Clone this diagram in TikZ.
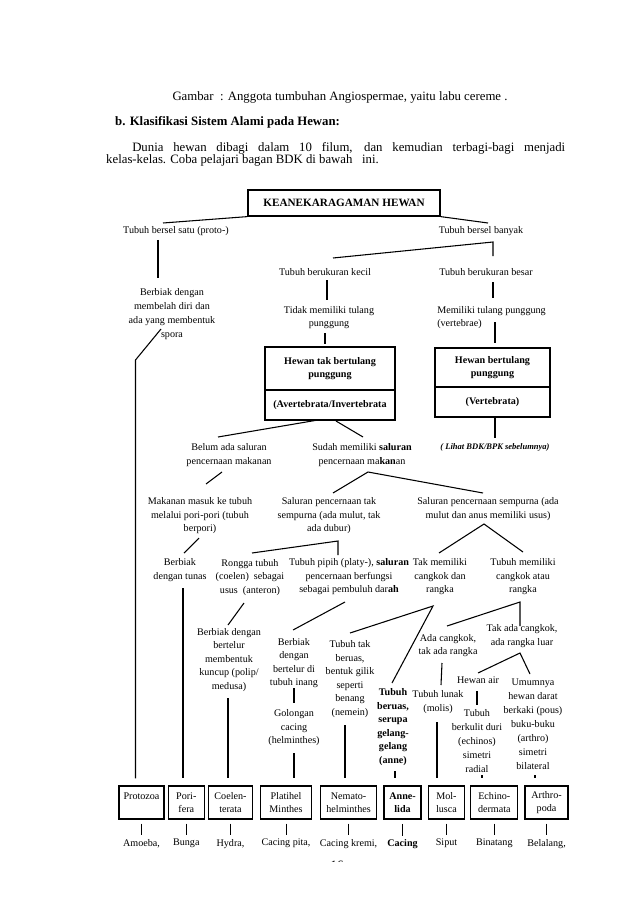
\documentclass[tikz,border=0pt]{standalone}
\usepackage{fontspec}
\setmainfont{Liberation Serif}
\usetikzlibrary{positioning}

\begin{document}
\begin{tikzpicture}[x=0.033cm, y=-0.033cm,
		teks/.style={align=center, font=\fontsize{9.5}{12.7}\selectfont, inner sep=1pt},
		teksLonggar/.style={teks, font=\fontsize{9.5}{13.1}\selectfont},
		kepala/.style={draw, line width=1.1pt, align=center, inner sep=1pt, font=\fontsize{9.5}{12.7}\bfseries\selectfont},
		kotak/.style={draw, line width=1.1pt, align=center, inner sep=1pt, minimum height=1.09cm, font=\fontsize{9.5}{12.7}\selectfont},
		garis/.style={line width=1pt},
		kekotak/.style={garis, shorten >=0.23cm},
		halaman/.style={font=\fontsize{12}{11.4}\selectfont, inner sep=0pt}
	]
	\fill[white] (0,0) rectangle (638,903);
	\useasboundingbox (0,0) rectangle (638,903);

	% teks halaman
	\node[halaman] (gambar) at (340,97) {Gambar\ \ : Anggota tumbuhan Angiospermae, yaitu labu cereme .};
	\node[halaman, font=\fontsize{12}{11.4}\bfseries\selectfont, anchor=west] (subjudul) at (115,122) {b. Klasifikasi Sistem Alami pada Hewan:};
	\node[halaman, anchor=west, text width=15.15cm, align=justify] (paragraf) at (106,154) {\hspace*{0.86cm}Dunia hewan dibagi dalam 10 filum, dan kemudian terbagi-bagi menjadi\linebreak kelas-kelas. Coba pelajari bagan BDK di bawah\ \ \ ini.};
	\begin{scope}
		\clip (320,850) rectangle (355,861.5);
		\node[halaman] (nomor) at (337,865) {16};
	\end{scope}

	% bagan
	\node[kepala, font=\fontsize{10.5}{12}\bfseries\selectfont, minimum width=6.34cm, minimum height=0.86cm] (judul) at (344,203) {KEANEKARAGAMAN HEWAN};
	\node[teks] (satu) at (176,231) {Tubuh bersel satu (proto-)};
	\node[teks] (banyak) at (481,231) {Tubuh bersel banyak};
	\node[teksLonggar] (belah) at (172,314) {Berbiak dengan\\membelah diri dan\\ada yang membentuk\\spora};
	\node[teks] (kecil) at (325,272) {Tubuh berukuran kecil};
	\node[teks] (besar) at (486,272) {Tubuh berukuran besar};
	\node[teks] (tidak) at (329,317.5) {Tidak memiliki tulang\\punggung};
	\node[teks, align=left, anchor=west] (vertebrae) at (436,317.5) {Memiliki tulang punggung\\(vertebrae)};
	\node[kepala, minimum width=4.29cm, minimum height=1.42cm] (avertA) at (330,368.5) {Hewan tak bertulang\\punggung};
	\node[kepala, minimum width=4.29cm, minimum height=0.99cm, below=-1.1pt of avertA] (avertB) {(Avertebrata/Invertebrata};
	\node[kepala, minimum width=3.8cm, minimum height=1.29cm] (vertA) at (492.5,367.5) {Hewan bertulang\\punggung};
	\node[kepala, minimum width=3.8cm, minimum height=0.99cm, below=-1.1pt of vertA] (vertB) {(Vertebrata)};
	\node[teks, font=\fontsize{8}{10}\bfseries\itshape\selectfont] (lihat) at (495,447) {( Lihat BDK/BPK sebelumnya)};
	\node[teks] (belum) at (229,455) {Belum ada saluran\\pencernaan makanan};
	\node[teks] (sudah) at (362,455) {Sudah memiliki \textbf{saluran}\\pencernaan ma\textbf{kan}an};
	\node[teks] (masuk) at (200,516) {Makanan masuk ke tubuh\\melalui pori-pori (tubuh\\berpori)};
	\node[teks] (takSempurna) at (329,516) {Saluran pencernaan tak\\sempurna (ada mulut, tak\\ada dubur)};
	\node[teks] (sempurna) at (488,509) {Saluran pencernaan sempurna (ada\\mulut dan anus memiliki usus)};
	\node[teks] (tunas) at (180,570) {Berbiak\\dengan tunas};
	\node[teks] (rongga) at (250,577.5) {Rongga tubuh\\(coelen)\ \ sebagai\\usus\ \ (anteron)};
	\node[teks] (pipih) at (349,577) {Tubuh pipih (platy-), \textbf{saluran}\\pencernaan berfungsi\\sebagai pembuluh dar\textbf{ah}};
	\node[teks] (takCangkok) at (440,577) {Tak memiliki\\cangkok dan\\rangka};
	\node[teks] (cangkok) at (523,577) {Tubuh memiliki\\cangkok atau\\rangka};
	\node[teks] (kuncup) at (229,660) {Berbiak dengan\\bertelur\\membentuk\\kuncup (polip/\\medusa)};
	\node[teks] (inang) at (294,663) {Berbiak\\dengan\\bertelur di\\tubuh inang};
	\node[teks] (golongan) at (294,728) {Golongan\\cacing\\(helminthes)};
	\node[teks] (gilik) at (350,679) {Tubuh tak\\beruas,\\bentuk gilik\\seperti\\benang\\(nemein)};
	\node[teks, font=\fontsize{9.5}{12.7}\bfseries\selectfont] (gelang) at (393,727) {Tubuh\\beruas,\\serupa\\gelang-\\gelang\\(anne)};
	\node[teks] (adaCangkok) at (448,645.5) {Ada cangkok,\\tak ada rangka};
	\node[teks] (rangkaLuar) at (522,636) {Tak ada cangkok,\\ada rangka luar};
	\node[teks] (lunak) at (438,702) {Tubuh lunak\\(molis)};
	\node[teks] (air) at (478,680) {Hewan air};
	\node[teksLonggar] (duri) at (477,741) {Tubuh\\berkulit duri\\(echinos)\\simetri\\radial};
	\node[teksLonggar] (darat) at (533,724.5) {Umumnya\\hewan darat\\berkaki (pous)\\buku-buku\\(arthro)\\simetri\\bilateral};

	% filum
	\node[kotak, minimum width=1.49cm] (protozoa) at (141.5,802.5) {Protozoa\\\mbox{}};
	\node[kotak, minimum width=1.19cm, right=0.1cm of protozoa] (porifera) {Pori-\\fera};
	\node[kotak, minimum width=1.45cm, right=0.1cm of porifera] (coelen) {Coelen-\\terata};
	\node[kotak, minimum width=1.68cm, right=0.23cm of coelen] (platihel) {Platihel\\Minthes};
	\node[kotak, minimum width=1.85cm, right=0.26cm of platihel] (nemato) {Nemato-\\helminthes};
	\node[kotak, line width=1.5pt, minimum width=1.22cm, right=0.2cm of nemato, font=\fontsize{9.5}{12.7}\bfseries\selectfont] (annelida) {Anne-\\lida};
	\node[kotak, minimum width=1.19cm, right=0.2cm of annelida] (mollusca) {Mol-\\lusca};
	\node[kotak, minimum width=1.55cm, right=0.17cm of mollusca] (echino) {Echino-\\dermata};
	\node[kotak, minimum width=1.42cm, right=0.2cm of echino] (arthro) {Arthro-\\poda};

	% contoh
	\node[teks, below=0.6cm of protozoa] (amoeba) {Amoeba,};
	\node[teks, below=0.6cm of porifera] (bunga) {Bunga};
	\node[teks, below=0.6cm of coelen] (hydra) {Hydra,};
	\node[teks, below=0.6cm of platihel] (pita) {Cacing pita,};
	\node[teks, below=0.6cm of nemato] (kremi) {Cacing kremi,};
	\node[teks, below=0.6cm of annelida, font=\fontsize{9.5}{12.7}\bfseries\selectfont] (cacing) {Cacing};
	\node[teks, below=0.6cm of mollusca] (siput) {Siput};
	\node[teks, below=0.6cm of echino] (binatang) {Binatang};
	\node[teks, below=0.6cm of arthro] (belalang) {Belalang,};

	% garis penghubung
	\coordinate (kiriJudul) at (163,223);
	\coordinate (kananJudul) at (488,223);
	\draw[garis] (judul.south west) -- (kiriJudul);
	\draw[garis] (judul.south east) -- (kananJudul);
	\coordinate (satuBawah) at (158,240);
	\coordinate (belahAtas) at (158,278);
	\draw[garis] (satuBawah) -- (belahAtas);
	\coordinate (sporaKiri) at (161,329);
	\coordinate (belok) at (135.5,360);
	\draw[kekotak] (sporaKiri) -- (belok) -- (belok |- protozoa.north);
	\coordinate (banyakBawah) at (493,242);
	\coordinate (kecilAtas) at (333,258);
	\coordinate (besarAtas) at (493,256);
	\draw[garis] (kecilAtas) -- (banyakBawah) -- (besarAtas);
	\coordinate (kecilBawah) at (327,280);
	\coordinate (tidakAtas) at (327,300);
	\draw[garis] (kecilBawah) -- (tidakAtas);
	\coordinate (besarBawah) at (493,282);
	\coordinate (memilikiAtas) at (493,298);
	\draw[garis] (besarBawah) -- (memilikiAtas);
	\coordinate (tidakBawah) at (325,333);
	\draw[garis, shorten >=2pt] (tidakBawah) -- (tidakBawah |- avertA.north);
	\coordinate (vertebraeKanan) at (495,322);
	\coordinate (vertAtas) at (495,343);
	\draw[garis] (vertebraeKanan) -- (vertAtas);
	\coordinate (lihatAtas) at (495,438);
	\draw[garis] (vertB.south -| lihatAtas) -- (lihatAtas);
	\coordinate (avertKiri) at (318,420);
	\coordinate (avertKanan) at (336,421);
	\coordinate (belumAtas) at (218,437);
	\coordinate (sudahAtas) at (363,437);
	\draw[garis] (avertKiri) -- (belumAtas);
	\draw[garis] (avertKanan) -- (sudahAtas);
	\coordinate (belumBawah) at (222,472);
	\coordinate (masukAtas) at (206,484);
	\draw[garis] (belumBawah) -- (masukAtas);
	\coordinate (sudahBawah) at (368,472);
	\coordinate (takSempurnaAtas) at (333,493);
	\coordinate (sempurnaAtas) at (483,493);
	\draw[garis] (takSempurnaAtas) -- (sudahBawah) -- (sempurnaAtas);
	\coordinate (masukBawah) at (199,538);
	\coordinate (tunasAtas) at (184,553);
	\draw[garis] (masukBawah) -- (tunasAtas);
	\coordinate (tunasBawah) at (183,588);
	\draw[kekotak] (tunasBawah) -- (tunasBawah |- porifera.north);
	\coordinate (takSempurnaBawah) at (338,541);
	\coordinate (ronggaAtas) at (252,553);
	\coordinate (pipihAtas) at (338,555);
	\draw[garis] (ronggaAtas) -- (takSempurnaBawah) -- (pipihAtas);
	\coordinate (ronggaBawah) at (244,603);
	\coordinate (kuncupAtas) at (228,625);
	\draw[garis] (ronggaBawah) -- (kuncupAtas);
	\coordinate (kuncupBawah) at (228,698);
	\draw[kekotak] (kuncupBawah) -- (kuncupBawah |- coelen.north);
	\coordinate (pipihBawah) at (345,602);
	\coordinate (inangAtas) at (293,630);
	\draw[garis] (pipihBawah) -- (inangAtas);
	\coordinate (inangBawah) at (294,688);
	\coordinate (golonganAtas) at (294,703);
	\draw[garis] (inangBawah) -- (golonganAtas);
	\coordinate (golonganBawah) at (294,753);
	\draw[kekotak] (golonganBawah) -- (golonganBawah |- platihel.north);
	\coordinate (sempurnaBawah) at (484,524);
	\coordinate (takCangkokAtas) at (439,553);
	\coordinate (cangkokAtas) at (523,552);
	\draw[garis] (takCangkokAtas) -- (sempurnaBawah) -- (cangkokAtas);
	\coordinate (takCangkokBawah) at (433,606);
	\coordinate (gilikAtas) at (350,633);
	\coordinate (gelangAtas) at (392,683);
	\draw[garis] (gilikAtas) -- (takCangkokBawah) -- (gelangAtas);
	\coordinate (cangkokBawah) at (520,602);
	\coordinate (adaCangkokAtas) at (447,626);
	\coordinate (rangkaLuarAtas) at (520,626);
	\draw[garis] (adaCangkokAtas) -- (cangkokBawah) -- (rangkaLuarAtas);
	\coordinate (adaCangkokBawah) at (442,663);
	\coordinate (lunakAtas) at (441,685);
	\draw[garis] (adaCangkokBawah) -- (lunakAtas);
	\coordinate (rangkaLuarBawah) at (520,653);
	\coordinate (airAtas) at (478,673);
	\coordinate (daratAtas) at (530,674);
	\draw[garis] (airAtas) -- (rangkaLuarBawah) -- (daratAtas);
	\coordinate (airBawah) at (477,691);
	\coordinate (duriAtas) at (477,705);
	\draw[garis] (airBawah) -- (duriAtas);
	\coordinate (gilikBawah) at (345,725);
	\draw[kekotak] (gilikBawah) -- (gilikBawah |- nemato.north);
	\coordinate (gelangBawah) at (395,771);
	\draw[kekotak] (gelangBawah) -- (gelangBawah |- annelida.north);
	\coordinate (lunakBawah) at (437,722);
	\draw[kekotak] (lunakBawah) -- (lunakBawah |- mollusca.north);
	\coordinate (duriBawah) at (482,775);
	\draw[kekotak] (duriBawah) -- (duriBawah |- echino.north);
	\coordinate (daratBawah) at (535,775);
	\draw[kekotak] (daratBawah) -- (daratBawah |- arthro.north);

	% filum ke contoh
	\draw[garis, shorten <=0.13cm, shorten >=0.08cm] (protozoa) -- (amoeba);
	\draw[garis, shorten <=0.13cm, shorten >=0.08cm] (porifera) -- (bunga);
	\draw[garis, shorten <=0.13cm, shorten >=0.08cm] (coelen) -- (hydra);
	\draw[garis, shorten <=0.13cm, shorten >=0.08cm] (platihel) -- (pita);
	\draw[garis, shorten <=0.13cm, shorten >=0.08cm] (nemato) -- (kremi);
	\draw[garis, shorten <=0.13cm, shorten >=0.08cm] (annelida) -- (cacing);
	\draw[garis, shorten <=0.13cm, shorten >=0.08cm] (mollusca) -- (siput);
	\draw[garis, shorten <=0.13cm, shorten >=0.08cm] (echino) -- (binatang);
	\draw[garis, shorten <=0.13cm, shorten >=0.08cm] (arthro) -- (belalang);
\end{tikzpicture}
\end{document}
